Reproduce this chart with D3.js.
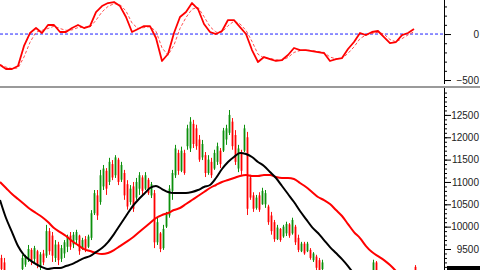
<!DOCTYPE html>
<html>
<head>
<meta charset="utf-8">
<script src="https://cdn.jsdelivr.net/npm/d3@7"></script>
<style>
body { margin: 0; background: #fff; }
svg { display: block; }
</style>
</head>
<body>
<div id="chart"></div>
<script>
// daily bars, oldest first
var opens  = [9300,9200,8950,8850,8900,8860,8950,9050,9150,9300,9480,9280,9450,9100,9400,9350,9900,9800,9300,9600,
              9280,9400,9550,9800,9600,9700,9800,9500,9720,9550,9750,10300,10700,10550,10900,11250,11000,11400,11150,11500,
              11050,11200,10950,10550,10900,10650,10850,11100,10850,11050,10700,10750,9650,9850,9520,10000,10250,10800,11150,11650,
              11250,11650,11800,11750,12300,12200,11950,11550,11600,11200,11450,11300,11450,11700,11700,11950,12100,12350,12050,11300,
              11650,11700,12000,11100,10700,10420,10700,10500,10500,10450,10250,10100,9720,9950,9780,9850,10050,9850,10000,9750,
              9450,9620,9450,9480,9250,9330,9250,9050,9000,8880,8800,8850,8760,8700,8750,8640,8600,8680,8760,8850,
              8800,8900,8950,8900,8980,9200,8950,8850,8900,8830,8750,8700,8760,8720,8650,8700,8800,8900,9100];
var highs  = [9370,9300,9000,8980,9000,9010,9020,9370,9370,9590,9520,9570,9480,9430,9480,10040,9970,9880,9700,9660,
              9590,9700,9820,9880,9880,9930,9820,9750,9790,9820,10370,10820,10820,11270,11380,11310,11540,11490,11600,11540,
              11450,11270,11040,10930,11000,11090,11220,11150,11220,11090,11000,10820,10200,9880,10040,10330,10930,11270,11830,11720,
              11790,11720,12280,12450,12390,12280,12050,11940,11670,11600,11540,11720,11880,11760,12210,12280,12610,12430,12160,11830,
              11720,12280,12120,11160,10770,10710,10770,10870,10820,10490,10330,10150,10040,9970,10040,10110,10080,10200,10040,9820,
              9660,9660,9660,9520,9430,9370,9300,9260,9020,8950,8900,8930,8850,8800,8820,8720,8700,8800,8900,8960,
              8950,9000,9010,9020,9260,9230,9000,8950,8980,8900,8820,8800,8850,8800,8750,8850,8950,9000,9140];
var lows   = [8950,8900,8800,8780,8800,8820,8850,9000,9100,9210,9140,9210,9070,9030,9140,9300,9370,9210,9210,9140,
              9210,9300,9430,9480,9520,9590,9370,9480,9430,9520,9700,10260,10150,10490,10820,10710,10930,11040,11090,10930,
              11000,10600,10380,10490,10330,10600,10710,10710,10820,10710,10640,9520,9590,9430,9480,9970,10200,10600,11090,11160,
              11220,11160,11720,11670,11760,11720,11450,11490,11110,11160,11090,11270,11380,11310,11670,11830,12050,11720,11380,11220,
              11160,11670,10260,10600,10330,10380,10330,10490,10420,10040,9820,9660,9700,9660,9750,9790,9750,9820,9590,9430,
              9430,9370,9430,9260,9210,9030,8990,8990,8820,8760,8720,8740,8650,8620,8600,8550,8520,8600,8700,8780,
              8750,8820,8850,8850,8950,8900,8800,8780,8800,8700,8650,8620,8680,8600,8580,8650,8750,8820,8900];
var closes = [9050,8980,8850,8900,8850,8950,8900,9300,9330,9500,9250,9520,9150,9380,9200,9900,9450,9350,9600,9250,
              9520,9650,9780,9550,9820,9880,9450,9700,9500,9780,10300,10750,10250,11150,11300,10850,11450,11100,11550,11000,
              11380,10700,10450,10850,10400,11000,11150,10800,11150,10750,10950,9650,10100,9500,9950,10300,10850,11200,11750,11250,
              11700,11200,12200,12350,11850,11800,11500,11850,11200,11500,11150,11650,11800,11400,12150,12200,12500,11800,11450,11750,
              11250,12200,10400,10650,10400,10650,10380,10800,10750,10100,9900,9720,9980,9700,10000,10060,9800,10150,9650,9480,
              9620,9400,9620,9300,9400,9080,9030,9200,8880,8800,8850,8760,8700,8750,8640,8600,8680,8760,8850,8800,
              8900,8950,8900,8980,9200,8950,8850,8900,8830,8750,8700,8760,8720,8650,8700,8800,8900,8950,8950];

// moving averages, one value every second bar
var maFast = [10596,10193,9879,9566,9364,9252,9162,9095,9050,9073,9073,9118,9162,9230,9297,9342,9431,9521,9655,9834,
              10036,10238,10439,10596,10730,10865,10910,10842,10775,10753,10753,10753,10775,10820,10887,10932,11089,11290,11447,11559,
              11649,11626,11559,11447,11358,11223,11089,10910,10730,10551,10350,10170,9991,9857,9700,9543,9409,9274,9118,8938];
var maSlow = [10999,10865,10730,10618,10506,10394,10305,10215,10103,9969,9879,9790,9678,9588,9498,9454,9409,9386,9409,9476,
              9566,9655,9745,9857,9969,10081,10193,10260,10305,10372,10417,10506,10596,10686,10775,10865,10932,10999,11044,11089,
              11134,11156,11134,11134,11156,11156,11111,11089,11089,11066,10977,10887,10775,10663,10596,10506,10372,10238,10058,9879,
              9745,9566,9431,9342,9252,9140,9006];

// oscillator and its signal line, one value every second bar
var oscMain   = [-337,-380,-380,-348,-130,11,65,11,98,98,22,22,65,98,65,87,239,304,337,348,
                 304,185,22,54,87,87,-43,-293,-217,11,185,239,337,272,109,22,0,33,152,152,
                 76,0,-174,-304,-250,-272,-293,-283,-228,-152,-174,-174,-185,-196,-207,-293,-272,-261,-163,-87,
                 11,-11,22,33,-33,-98,-87,-11,11,54];
var oscSignal = [-330,-360,-375,-370,-250,-90,20,40,60,85,60,40,45,70,75,75,150,240,300,330,
                 320,250,120,60,70,80,30,-150,-230,-120,60,180,270,290,190,80,20,20,90,140,
                 110,40,-80,-220,-260,-265,-280,-285,-255,-200,-180,-175,-180,-190,-200,-250,-270,-265,-210,-140,
                 -50,-10,5,20,0,-60,-85,-50,-10,25];

var priceTicks = [9500,10000,10500,11000,11500,12000,12500];
var oscTicks = [0,-500];

var width = 480, height = 270;
var plotRight = 444;

var svg = d3.select("#chart").append("svg")
    .attr("width", width).attr("height", height)
    .style("font-family", "'Liberation Sans', Arial, sans-serif");

var defs = svg.append("defs");
defs.append("clipPath").attr("id", "clipTop")
    .append("rect").attr("x", 0).attr("y", 0).attr("width", plotRight).attr("height", 86);
defs.append("clipPath").attr("id", "clipBottom")
    .append("rect").attr("x", 0).attr("y", 88).attr("width", plotRight).attr("height", 182);

var x = d3.scaleLinear().domain([0, 148]).range([0, plotRight]);
var yOsc = d3.scaleLinear().domain([-565, 370]).range([86, 0]);
var yPrice = d3.scaleLinear().domain([9030, 13080]).range([270, 89]);

// ---- top panel
var oscPanel = svg.append("g").attr("clip-path", "url(#clipTop)");

oscPanel.append("line")
    .attr("x1", 0).attr("x2", plotRight)
    .attr("y1", yOsc(0)).attr("y2", yOsc(0))
    .attr("stroke", "#2020ff").attr("stroke-width", 1)
    .attr("stroke-dasharray", "3,2");

var oscLine = d3.line()
    .x(function(d, k) { return x(2 * k); })
    .y(function(d) { return yOsc(d); });

oscPanel.append("path").datum(oscSignal)
    .attr("d", oscLine)
    .attr("fill", "none").attr("stroke", "#ff5050").attr("stroke-width", 1)
    .attr("stroke-dasharray", "3,2");

oscPanel.append("path").datum(oscMain)
    .attr("d", oscLine)
    .attr("fill", "none").attr("stroke", "#ff0000").attr("stroke-width", 1.8)
    .attr("stroke-linejoin", "round");

// ---- bottom panel
var pricePanel = svg.append("g").attr("clip-path", "url(#clipBottom)");

var bars = closes.map(function(c, i) {
    return { i: i, o: opens[i], h: highs[i], l: lows[i], c: c };
});

var candle = pricePanel.selectAll("g.candle").data(bars).enter().append("g")
    .attr("class", "candle");

candle.append("line")
    .attr("x1", function(d) { return x(d.i + 0.5); })
    .attr("x2", function(d) { return x(d.i + 0.5); })
    .attr("y1", function(d) { return yPrice(d.h); })
    .attr("y2", function(d) { return yPrice(d.l); })
    .attr("stroke", function(d) { return d.c >= d.o ? "#0c900c" : "#ff1010"; })
    .attr("stroke-width", 1);

candle.append("rect")
    .attr("x", function(d) { return x(d.i + 0.5) - 0.9; })
    .attr("width", 1.8)
    .attr("y", function(d) { return yPrice(Math.max(d.o, d.c)); })
    .attr("height", function(d) { return Math.max(1, Math.abs(yPrice(d.o) - yPrice(d.c))); })
    .attr("fill", function(d) { return d.c >= d.o ? "#0c900c" : "#ff0000"; });

var maLine = d3.line()
    .x(function(d, k) { return x(2 * k); })
    .y(function(d) { return yPrice(d); })
    .curve(d3.curveMonotoneX);

pricePanel.append("path").datum(maSlow)
    .attr("d", maLine)
    .attr("fill", "none").attr("stroke", "#ff0000").attr("stroke-width", 2);

pricePanel.append("path").datum(maFast)
    .attr("d", maLine)
    .attr("fill", "none").attr("stroke", "#000").attr("stroke-width", 2);

// ---- separator
svg.append("line")
    .attr("x1", 0).attr("x2", width).attr("y1", 87).attr("y2", 87)
    .attr("stroke", "#9a9a9a").attr("stroke-width", 2);

// ---- right axes
function minorValues(lo, hi) {
    var out = [];
    for (var v = lo; v <= hi; v += 100) out.push(v);
    return out;
}

var oscAxisG = svg.append("g").attr("transform", "translate(" + plotRight + ",0)");
oscAxisG.append("line").attr("x1", 0.5).attr("x2", 0.5).attr("y1", 0).attr("y2", 84)
    .attr("stroke", "#000");
oscAxisG.append("g")
    .call(d3.axisRight(yOsc).tickValues(minorValues(-500, 300)).tickSize(3).tickSizeOuter(0).tickFormat(""))
    .call(function(g) { g.select(".domain").remove(); });
oscAxisG.append("g")
    .call(d3.axisRight(yOsc).tickValues(oscTicks).tickSize(7).tickSizeOuter(0))
    .call(function(g) { g.select(".domain").remove(); });

var priceAxisG = svg.append("g").attr("transform", "translate(" + plotRight + ",0)");
priceAxisG.append("line").attr("x1", 0.5).attr("x2", 0.5).attr("y1", 88).attr("y2", 270)
    .attr("stroke", "#000");
priceAxisG.append("g")
    .call(d3.axisRight(yPrice).tickValues(minorValues(9100, 13000)).tickSize(3).tickSizeOuter(0).tickFormat(""))
    .call(function(g) { g.select(".domain").remove(); });
priceAxisG.append("g")
    .call(d3.axisRight(yPrice).tickValues(priceTicks).tickSize(7).tickSizeOuter(0).tickFormat(d3.format("d")))
    .call(function(g) { g.select(".domain").remove(); });

svg.selectAll(".tick line").attr("stroke", "#000");
svg.selectAll(".tick text")
    .attr("x", 35).attr("text-anchor", "end")
    .attr("font-size", 10).attr("fill", "#222")
    .style("font-family", "'Liberation Sans', Arial, sans-serif");

// last price box, mostly below the window
svg.append("rect")
    .attr("x", plotRight + 3).attr("y", 266).attr("width", 33).attr("height", 14)
    .attr("fill", "#000");
</script>
</body>
</html>
